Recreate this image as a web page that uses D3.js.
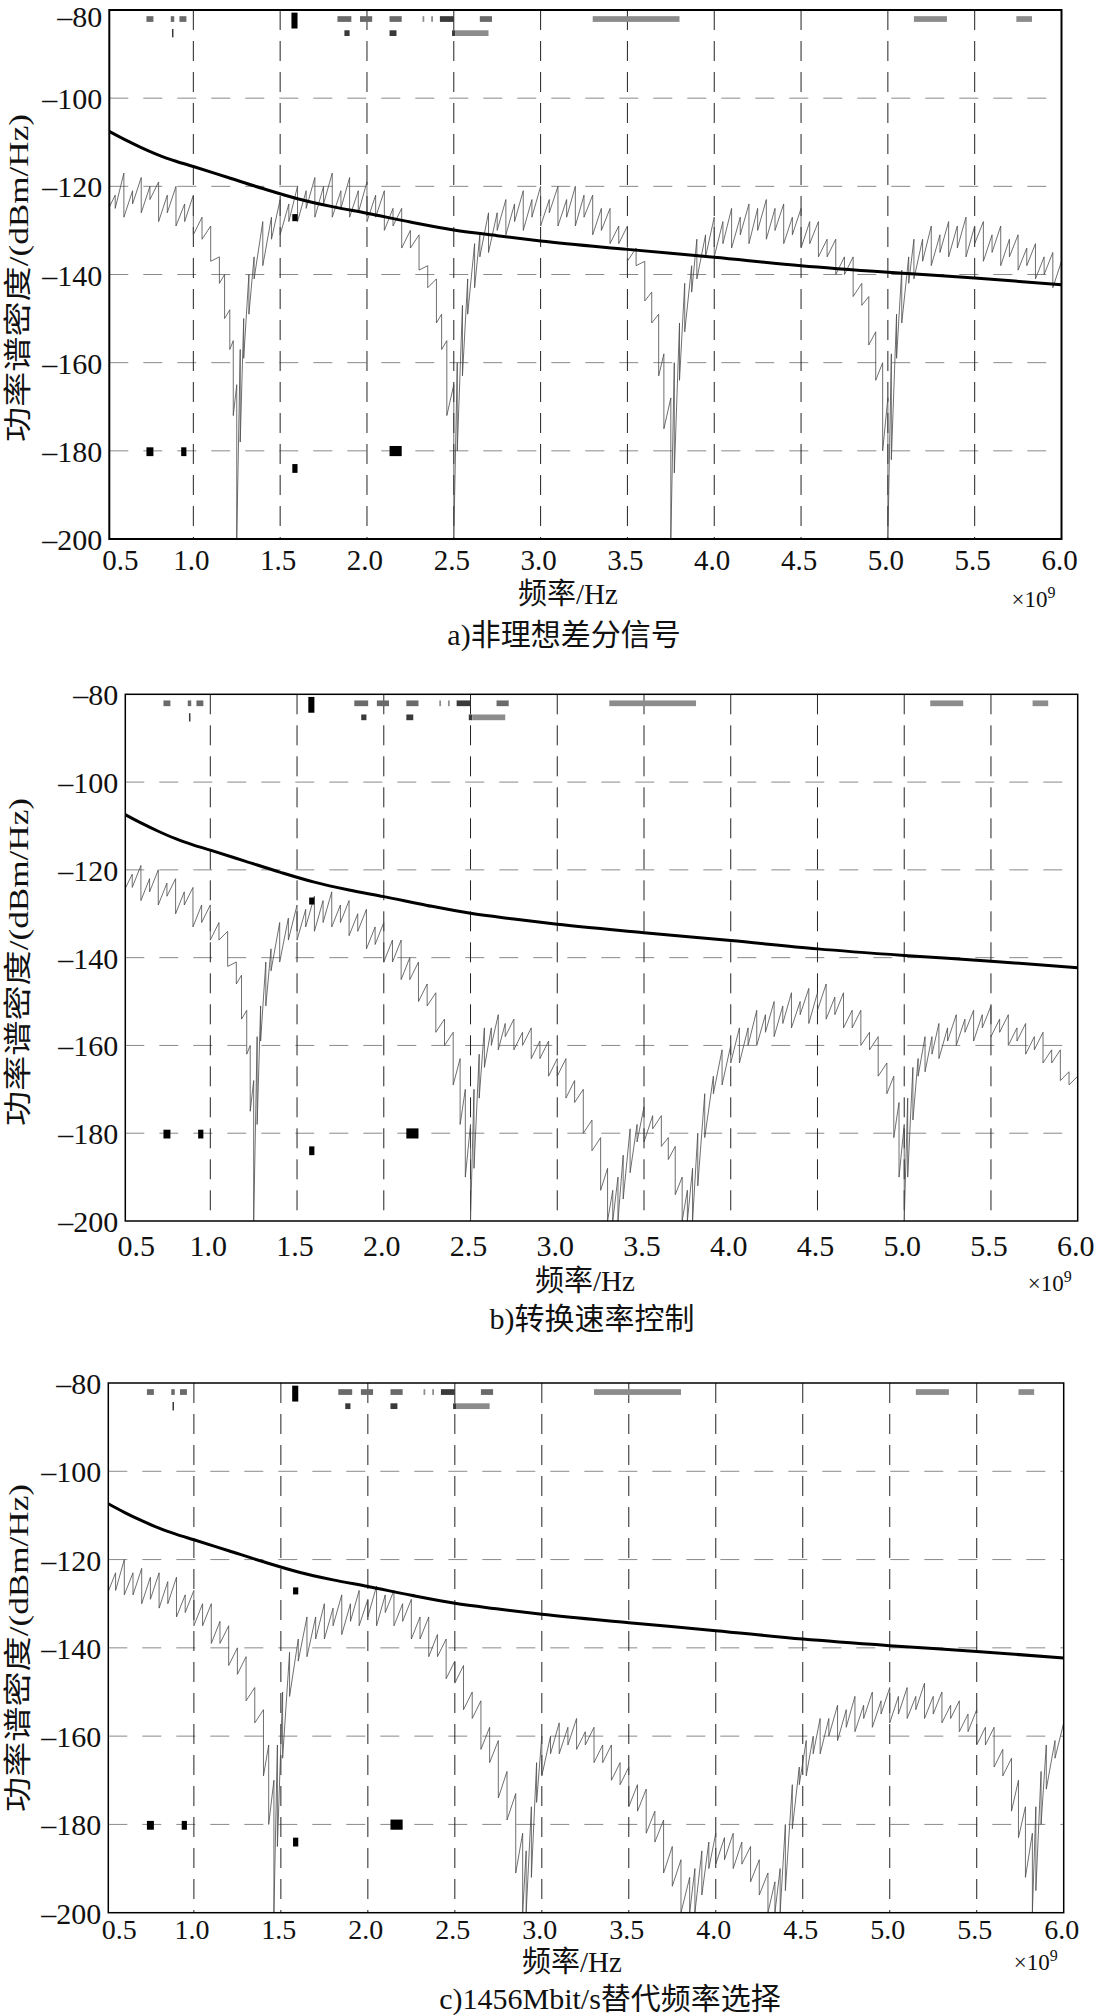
<!DOCTYPE html>
<html>
<head>
<meta charset="utf-8">
<script src="https://cdn.jsdelivr.net/npm/d3@7"></script>
<style>
body{margin:0;background:#fff;}
svg text{font-family:"Liberation Serif","Noto Sans CJK SC",serif;fill:#111;}
</style>
</head>
<body>
<svg id="chart"></svg>
<script>
// tick values (GHz / dBm/Hz)
var xTicks = [0.5, 1.0, 1.5, 2.0, 2.5, 3.0, 3.5, 4.0, 4.5, 5.0, 5.5, 6.0];
var yTicks = [-80, -100, -120, -140, -160, -180, -200];
var captions = ["a)非理想差分信号", "b)转换速率控制", "c)1456Mbit/s替代频率选择"];

// emission limit (thick black curve), same in every panel
var limitFreq = [0.5, 0.6, 0.7, 0.8, 0.9, 1.0, 1.2, 1.4, 1.6, 1.8, 2.0, 2.25, 2.5, 2.75, 3.0, 3.5, 4.0, 4.5, 5.0, 5.5, 6.0];
var limitPsd  = [-107.2, -109.3, -111.2, -112.9, -114.3, -115.5, -118.0, -120.5, -122.8, -124.6, -126.1, -128.1, -129.9, -131.2, -132.4, -134.3, -136.1, -138.0, -139.5, -140.8, -142.3];

// measured spectra: [freq, upper spike, lower spike]
var spectrumA = [
[0.50,-119,-126],[0.55,-122,-125],[0.60,-117,-127],[0.65,-121,-124],[0.70,-118,-126],[0.75,-120,-123],
[0.80,-119,-128],[0.85,-122,-126],[0.90,-120,-129],[0.95,-124,-128],[1.00,-122,-131],[1.05,-127,-132],
[1.10,-129,-137],[1.15,-136,-142],[1.18,-140,-150],[1.21,-148,-157],[1.23,-155,-172],[1.25,-165,-200],
[1.27,-157,-178],[1.29,-150,-159],[1.32,-140,-149],[1.35,-136,-141],[1.40,-128,-138],[1.45,-127,-132],
[1.50,-123,-131],[1.55,-124,-128],[1.60,-120,-128],[1.65,-121,-125],[1.70,-118,-127],[1.75,-120,-124],
[1.80,-117,-127],[1.85,-121,-125],[1.90,-118,-127],[1.95,-121,-126],[2.00,-119,-128],[2.05,-122,-127],
[2.10,-121,-130],[2.15,-125,-129],[2.20,-125,-134],[2.25,-130,-134],[2.30,-131,-139],[2.35,-138,-143],
[2.40,-141,-151],[2.43,-149,-157],[2.46,-155,-172],[2.50,-165,-200],[2.52,-160,-180],[2.55,-147,-163],
[2.58,-141,-149],[2.62,-133,-143],[2.65,-131,-136],[2.70,-126,-135],[2.75,-126,-130],[2.80,-123,-131],
[2.85,-124,-128],[2.90,-121,-130],[2.95,-123,-127],[3.00,-120,-129],[3.05,-123,-126],[3.10,-120,-129],
[3.15,-123,-127],[3.20,-120,-129],[3.25,-122,-127],[3.30,-122,-131],[3.35,-125,-130],[3.40,-125,-133],
[3.45,-129,-133],[3.50,-129,-137],[3.55,-134,-138],[3.60,-137,-146],[3.64,-144,-151],[3.68,-149,-163],
[3.71,-158,-175],[3.75,-168,-200],[3.77,-160,-185],[3.80,-151,-164],[3.83,-142,-153],[3.87,-138,-144],
[3.90,-132,-141],[3.95,-131,-136],[4.00,-127,-136],[4.05,-128,-133],[4.10,-125,-134],[4.15,-127,-131],
[4.20,-124,-133],[4.25,-125,-130],[4.30,-123,-132],[4.35,-125,-130],[4.40,-124,-133],[4.45,-127,-131],
[4.50,-125,-134],[4.55,-128,-133],[4.60,-128,-136],[4.65,-132,-136],[4.70,-132,-140],[4.75,-136,-140],
[4.80,-136,-145],[4.85,-142,-147],[4.89,-145,-156],[4.93,-153,-164],[4.97,-160,-180],[5.00,-168,-200],
[5.02,-158,-182],[5.05,-149,-159],[5.08,-139,-151],[5.12,-136,-142],[5.15,-132,-141],[5.20,-132,-137],
[5.25,-129,-138],[5.30,-131,-135],[5.35,-128,-136],[5.40,-129,-134],[5.45,-127,-136],[5.50,-129,-133],
[5.55,-128,-137],[5.60,-131,-135],[5.65,-129,-138],[5.70,-132,-136],[5.75,-131,-139],[5.80,-134,-138],
[5.85,-133,-141],[5.90,-136,-140],[5.95,-135,-143],[6.00,-137,-142]
];

var spectrumB = [
[0.50,-119,-125],[0.55,-121,-124],[0.60,-119,-127],[0.65,-122,-125],[0.70,-120,-128],[0.75,-123,-126],
[0.80,-122,-130],[0.85,-125,-128],[0.90,-124,-133],[0.95,-128,-132],[1.00,-128,-136],[1.05,-132,-136],
[1.10,-134,-142],[1.15,-141,-146],[1.18,-144,-154],[1.21,-152,-162],[1.23,-160,-175],[1.25,-168,-200],
[1.27,-158,-178],[1.29,-151,-159],[1.32,-141,-151],[1.35,-138,-143],[1.40,-132,-141],[1.45,-131,-136],
[1.50,-128,-136],[1.55,-129,-133],[1.60,-126,-134],[1.65,-127,-132],[1.70,-125,-133],[1.75,-128,-132],
[1.80,-127,-135],[1.85,-130,-134],[1.90,-129,-138],[1.95,-133,-137],[2.00,-132,-141],[2.05,-136,-141],
[2.10,-136,-145],[2.15,-140,-145],[2.20,-141,-150],[2.25,-146,-151],[2.30,-148,-157],[2.35,-154,-160],
[2.40,-157,-169],[2.44,-163,-178],[2.47,-170,-190],[2.50,-178,-200],[2.52,-170,-188],[2.55,-162,-172],
[2.58,-156,-165],[2.62,-156,-160],[2.66,-153,-161],[2.70,-155,-158],[2.75,-154,-161],[2.80,-157,-160],
[2.85,-156,-163],[2.90,-159,-163],[2.95,-159,-167],[3.00,-163,-167],[3.05,-163,-172],[3.10,-168,-173],
[3.15,-170,-180],[3.20,-177,-184],[3.25,-181,-193],[3.29,-188,-200],[3.32,-193,-200],[3.35,-190,-200],
[3.38,-185,-195],[3.42,-179,-189],[3.46,-178,-182],[3.50,-174,-182],[3.55,-176,-179],[3.60,-176,-183],
[3.64,-181,-186],[3.68,-183,-194],[3.72,-190,-200],[3.75,-193,-200],[3.78,-188,-200],[3.81,-180,-192],
[3.85,-171,-181],[3.90,-167,-171],[3.95,-161,-169],[4.00,-160,-164],[4.05,-156,-164],[4.10,-156,-160],
[4.15,-152,-160],[4.20,-153,-157],[4.25,-150,-158],[4.30,-151,-155],[4.35,-148,-156],[4.40,-150,-153],
[4.45,-147,-155],[4.50,-148,-152],[4.55,-146,-154],[4.60,-149,-153],[4.65,-148,-156],[4.70,-152,-156],
[4.75,-152,-160],[4.80,-157,-161],[4.85,-158,-167],[4.90,-164,-171],[4.94,-167,-181],[4.97,-173,-190],
[5.00,-178,-200],[5.02,-172,-190],[5.05,-165,-177],[5.08,-163,-167],[5.12,-158,-166],[5.16,-158,-162],
[5.20,-155,-163],[5.25,-156,-159],[5.30,-153,-160],[5.35,-154,-157],[5.40,-152,-159],[5.45,-153,-156],
[5.50,-151,-158],[5.55,-154,-157],[5.60,-153,-160],[5.65,-156,-159],[5.70,-155,-162],[5.75,-158,-161],
[5.80,-157,-164],[5.85,-161,-164],[5.90,-161,-168],[5.95,-166,-169],[6.00,-167,-175]
];

var spectrumC = [
[0.50,-121,-128],[0.55,-123,-127],[0.60,-120,-128],[0.65,-123,-128],[0.70,-122,-130],[0.75,-124,-129],
[0.80,-123,-131],[0.85,-125,-130],[0.90,-124,-133],[0.95,-128,-132],[1.00,-127,-135],[1.05,-130,-135],
[1.10,-130,-139],[1.15,-134,-139],[1.20,-135,-144],[1.25,-140,-146],[1.30,-142,-152],[1.35,-149,-157],
[1.40,-154,-169],[1.43,-162,-180],[1.46,-170,-200],[1.48,-162,-185],[1.51,-150,-165],[1.55,-141,-151],
[1.60,-138,-143],[1.65,-133,-142],[1.70,-133,-138],[1.75,-130,-138],[1.80,-131,-135],[1.85,-128,-137],
[1.90,-130,-134],[1.95,-127,-135],[2.00,-129,-133],[2.05,-126,-135],[2.10,-128,-132],[2.15,-127,-135],
[2.20,-130,-134],[2.25,-129,-138],[2.30,-133,-138],[2.35,-133,-142],[2.40,-137,-142],[2.45,-138,-147],
[2.50,-143,-148],[2.55,-144,-154],[2.60,-150,-156],[2.65,-152,-163],[2.70,-158,-166],[2.75,-161,-174],
[2.80,-168,-179],[2.85,-173,-191],[2.89,-182,-200],[2.91,-186,-200],[2.94,-176,-192],[2.97,-166,-175],
[3.00,-160,-169],[3.05,-160,-164],[3.10,-157,-164],[3.15,-158,-162],[3.20,-156,-163],[3.25,-159,-162],
[3.30,-158,-166],[3.35,-162,-166],[3.40,-162,-170],[3.45,-166,-171],[3.50,-167,-176],[3.55,-171,-177],
[3.60,-172,-182],[3.65,-177,-184],[3.70,-179,-191],[3.75,-185,-194],[3.80,-188,-200],[3.85,-192,-200],
[3.88,-190,-200],[3.92,-186,-196],[3.96,-184,-190],[4.00,-182,-189],[4.05,-183,-188],[4.10,-182,-190],
[4.15,-184,-189],[4.20,-185,-193],[4.25,-188,-196],[4.30,-191,-200],[4.34,-193,-200],[4.37,-190,-200],
[4.40,-180,-195],[4.44,-171,-181],[4.48,-167,-171],[4.52,-161,-169],[4.56,-160,-164],[4.60,-156,-164],
[4.65,-156,-160],[4.70,-153,-161],[4.75,-154,-158],[4.80,-151,-159],[4.85,-153,-156],[4.90,-150,-158],
[4.95,-152,-155],[5.00,-149,-157],[5.05,-151,-155],[5.10,-149,-156],[5.15,-151,-154],[5.20,-148,-156],
[5.25,-151,-155],[5.30,-150,-157],[5.35,-153,-156],[5.40,-152,-159],[5.45,-155,-159],[5.50,-154,-162],
[5.55,-158,-162],[5.60,-158,-167],[5.65,-163,-169],[5.70,-165,-177],[5.74,-170,-183],[5.78,-176,-192],
[5.82,-182,-200],[5.84,-176,-195],[5.87,-168,-180],[5.90,-162,-172],[5.95,-161,-165],[6.00,-157,-165]
];

// stray marker blocks: [f0, f1, dBtop, dBbottom, tone]
var markers = [
[0.73,0.77,-81.4,-82.7,"mid"],[0.87,0.89,-81.4,-82.7,"mid"],[0.92,0.96,-81.4,-82.7,"mid"],
[1.565,1.60,-80.6,-84.2,"black"],[1.83,1.91,-81.4,-82.7,"mid"],[1.96,2.03,-81.4,-82.7,"mid"],
[2.13,2.20,-81.4,-82.7,"mid"],[2.32,2.33,-81.4,-82.7,"light"],[2.37,2.38,-81.4,-82.7,"light"],
[2.42,2.50,-81.4,-82.7,"dark"],[2.65,2.72,-81.4,-82.7,"mid"],[3.30,3.80,-81.4,-82.7,"light"],
[5.15,5.34,-81.4,-82.7,"light"],[5.74,5.83,-81.4,-82.7,"light"],
[0.877,0.884,-84.3,-86.2,"dark"],[1.87,1.90,-84.6,-85.9,"dark"],[2.13,2.17,-84.6,-85.9,"dark"],
[2.49,2.51,-84.6,-85.9,"dark"],[2.51,2.70,-84.6,-85.9,"light"],
[1.57,1.60,-126.3,-127.9,"black"],
[0.73,0.77,-179.2,-181.2,"black"],[0.93,0.96,-179.2,-181.2,"black"],
[1.57,1.60,-183,-185,"black"],[2.13,2.20,-178.9,-181.2,"black"]
];

var toneColor = {light:"#8c8c8c", mid:"#6a6a6a", dark:"#3a3a3a", black:"#000"};

var W = 1094, H = 2015;
var svg = d3.select("#chart").attr("width", W).attr("height", H);

// panel frames and text placement (pixel layout)
var frames = [
  {f0:0.516, l:109.3, r:1061.5, t:10,    b:539,    sw:2,   tickDy:31, tickFs:29, xlab:568, xlabDy:65, expDy:68, cap:564, capDy:106, ylab:278},
  {f0:0.510, l:125.3, r:1077.7, t:694.3, b:1221,   sw:1.5, tickDy:35, tickFs:30, xlab:585, xlabDy:70, expDy:70, cap:592, capDy:108, ylab:962},
  {f0:0.508, l:108.3, r:1063.7, t:1383,  b:1912.7, sw:1.5, tickDy:26, tickFs:28, xlab:572, xlabDy:59, expDy:57, cap:610, capDy:96,  ylab:1648}
];
var spectra = [spectrumA, spectrumB, spectrumC];

frames.forEach(function(fr, i){
  var x = d3.scaleLinear().domain([fr.f0, 6.0]).range([fr.l, fr.r]);
  var y = d3.scaleLinear().domain([-200, -80]).range([fr.b, fr.t]).clamp(true);
  var g = svg.append("g").attr("class", "panel");

  g.append("clipPath").attr("id", "clip" + i)
    .append("rect").attr("x", fr.l).attr("y", fr.t)
    .attr("width", fr.r - fr.l).attr("height", fr.b - fr.t);

  // grid
  g.selectAll(".hgrid").data(yTicks.slice(1, -1)).enter().append("line")
    .attr("x1", fr.l).attr("x2", fr.r)
    .attr("y1", function(d){ return y(d); }).attr("y2", function(d){ return y(d); })
    .attr("stroke", "#8a8a8a").attr("stroke-width", 1).attr("stroke-dasharray", "19,15");
  g.selectAll(".vgrid").data(xTicks.slice(1, -1)).enter().append("line")
    .attr("x1", function(d){ return x(d); }).attr("x2", function(d){ return x(d); })
    .attr("y1", fr.t).attr("y2", fr.b)
    .attr("stroke", "#222").attr("stroke-width", 1).attr("stroke-dasharray", "20,11");

  var plot = g.append("g").attr("clip-path", "url(#clip" + i + ")");

  // spectrum: stroke from upper to lower spike at each sample
  var pts = [];
  spectra[i].forEach(function(d){ pts.push([d[0], d[1]]); pts.push([d[0], d[2]]); });
  plot.append("path")
    .attr("d", d3.line().x(function(d){ return x(d[0]); }).y(function(d){ return y(d[1]); })(pts))
    .attr("fill", "none").attr("stroke", "#4a4a4a").attr("stroke-width", 0.8);

  // limit curve
  plot.append("path")
    .attr("d", d3.line().curve(d3.curveMonotoneX)
      .x(function(d, k){ return x(limitFreq[k]); }).y(function(d){ return y(d); })(limitPsd))
    .attr("fill", "none").attr("stroke", "#000").attr("stroke-width", 3);

  // marker blocks
  plot.selectAll(".mk").data(markers).enter().append("rect")
    .attr("x", function(d){ return x(d[0]); })
    .attr("width", function(d){ return Math.max(1.5, x(d[1]) - x(d[0])); })
    .attr("y", function(d){ return y(d[2]); })
    .attr("height", function(d){ return y(d[3]) - y(d[2]); })
    .attr("fill", function(d){ return toneColor[d[4]]; });

  // frame
  g.append("rect").attr("x", fr.l).attr("y", fr.t)
    .attr("width", fr.r - fr.l).attr("height", fr.b - fr.t)
    .attr("fill", "none").attr("stroke", "#000").attr("stroke-width", fr.sw);

  // tick labels
  g.selectAll(".xt").data(xTicks).enter().append("text")
    .attr("x", function(d, k){ return k === 0 ? fr.l + 11 : x(d) - 2; })
    .attr("y", fr.b + fr.tickDy)
    .attr("text-anchor", "middle").attr("font-size", fr.tickFs)
    .text(d3.format(".1f"));
  g.selectAll(".yt").data(yTicks).enter().append("text")
    .attr("x", fr.l - 7).attr("y", function(d){ return Math.max(y(d) + 11, 27); })
    .attr("text-anchor", "end").attr("font-size", 30)
    .text(function(d){ return "\u2013" + Math.abs(d); });

  // axis titles
  g.append("text").attr("x", fr.xlab).attr("y", fr.b + fr.xlabDy)
    .attr("text-anchor", "middle").attr("font-size", 29).text("频率/Hz");
  var ex = g.append("text").attr("x", fr.r - 50).attr("y", fr.b + fr.expDy).attr("font-size", 23);
  ex.append("tspan").text("×10");
  ex.append("tspan").attr("dy", -9).attr("font-size", 16).text("9");
  g.append("text")
    .attr("transform", "translate(28," + fr.ylab + ") rotate(-90)")
    .attr("text-anchor", "middle").attr("font-size", 28)
    .attr("textLength", 328).attr("lengthAdjust", "spacingAndGlyphs")
    .text("功率谱密度/(dBm/Hz)");
  g.append("text").attr("x", fr.cap).attr("y", fr.b + fr.capDy)
    .attr("text-anchor", "middle").attr("font-size", 30).text(captions[i]);
});
</script>
</body>
</html>
